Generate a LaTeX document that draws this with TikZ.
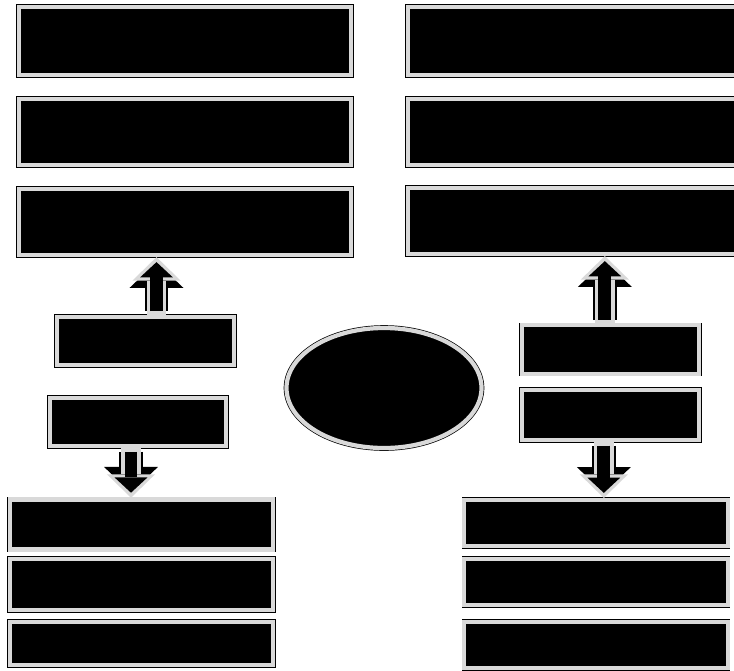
\documentclass[tikz,border=0pt]{standalone}
\usepackage{tikz}
\usetikzlibrary{arrows.meta,shapes.geometric}

\tikzset{
  panel/.style={draw=black, double=gray!30, double distance=3.6pt, line width=0.6pt,
    fill=black, inner sep=0pt},
  fatarrow/.style={
    preaction={draw=black, line width=20pt, -{Triangle[width=46pt,length=22pt,line width=0pt]}},
    preaction={draw=gray!30, line width=17pt, shorten <=1.2pt, shorten >=1.2pt,
      -{Triangle[width=41pt,length=20pt,line width=0pt]}},
    draw=black, line width=11pt, shorten <=4.5pt, shorten >=5.5pt,
    -{Triangle[width=28pt,length=13pt,line width=0pt]}},
}

\begin{document}
\begin{tikzpicture}[x=0.03cm,y=-0.03cm]
\useasboundingbox (0,0) rectangle (734,670);
\clip (0,0) rectangle (734,670);
% top rows
\node[panel,minimum width=9.95cm,minimum height=2.05cm] (l1) at (185,41) {};
\node[panel,minimum width=9.95cm,minimum height=2.0cm] (l2) at (185,132) {};
\node[panel,minimum width=9.95cm,minimum height=2.0cm] (l3) at (185,222) {};
\node[panel,minimum width=10.1cm,minimum height=2.05cm] (r1) at (576,41) {};
\node[panel,minimum width=10.1cm,minimum height=2.0cm] (r2) at (576,132) {};
\node[panel,minimum width=10.1cm,minimum height=2.0cm] (r3) at (576,221) {};
% middle
\node[panel,minimum width=5.3cm,minimum height=1.45cm] (lm1) at (145.5,341) {};
\node[panel,minimum width=5.3cm,minimum height=1.45cm] (lm2) at (138,422) {};
\node[panel,minimum width=5.3cm,minimum height=1.45cm] (rm1) at (610.5,349.5) {};
\node[panel,minimum width=5.3cm,minimum height=1.5cm] (rm2) at (610.5,415) {};
\node[panel,ellipse,minimum width=5.85cm,minimum height=3.6cm] (hub) at (384,388) {};
% bottom rows
\node[panel,minimum width=7.9cm,minimum height=1.5cm] (lb1) at (141.5,524.5) {};
\node[panel,minimum width=7.9cm,minimum height=1.55cm] (lb2) at (141.5,584.5) {};
\node[panel,minimum width=7.9cm,minimum height=1.3cm] (lb3) at (141.5,643.5) {};
\node[panel,minimum width=7.9cm,minimum height=1.4cm] (rb1) at (596,523) {};
\node[panel,minimum width=7.9cm,minimum height=1.4cm] (rb2) at (596,582) {};
\node[panel,minimum width=7.9cm,minimum height=1.4cm] (rb3) at (596,645) {};
% arrows
\draw[fatarrow] ([xshift=0.33cm]lm1.north) -- ([xshift=0.33cm]lm1.north |- l3.south);
\draw[fatarrow] ([xshift=-0.17cm]rm1.north) -- ([xshift=-0.17cm]rm1.north |- r3.south);
\draw[fatarrow] ([xshift=-0.21cm]lm2.south) -- ([xshift=-0.21cm]lm2.south |- lb1.north);
\draw[fatarrow] ([xshift=-0.2cm]rm2.south) -- ([xshift=-0.2cm]rm2.south |- rb1.north);
\end{tikzpicture}
\end{document}
